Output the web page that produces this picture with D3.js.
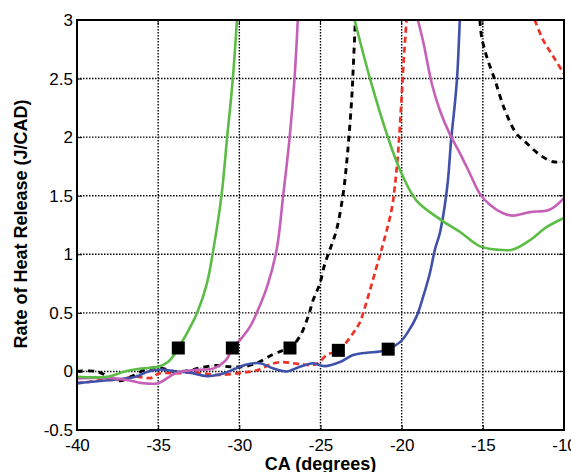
<!DOCTYPE html>
<html><head><meta charset="utf-8">
<script src="https://cdn.jsdelivr.net/npm/d3@7"></script>
<style>body{margin:0;background:#fff;} svg{display:block;}</style>
</head><body>
<svg id="c" width="571" height="472"></svg>
<script>
const xTicks = [-40,-35,-30,-25,-20,-15,-10];
const yTicks = [-0.5,0,0.5,1,1.5,2,2.5,3];
const xTickLabels = ["-40","-35","-30","-25","-20","-15","-10"];
const yTickLabels = ["-0.5","0","0.5","1","1.5","2","2.5","3"];

const greenX = [-40,-38.1,-37.05,-36,-35,-34.4,-33.97,-33.76,-33.25,-32.6,-32.0,-31.6,-31.1,-30.75,-30.4,-30.15,null,-22.9,-21.95,-20.85,-20.1,-19.1,-17.65,-16.4,-15.2,-14.15,-13.15,-12.1,-11.1,-10];
const greenY = [-0.045,-0.045,0.0,0.025,0.04,0.08,0.15,0.2,0.32,0.5,0.75,1.04,1.5,2.0,2.5,3.0,null,3.0,2.5,2.0,1.72,1.46,1.3,1.19,1.07,1.04,1.04,1.12,1.23,1.31];

const magentaX = [-40,-38.1,-36.85,-36,-35,-33.96,-32.94,-32.4,-31.6,-30.8,-30.43,-29.95,-29.35,-28.93,-28.3,-27.7,-27.3,-26.9,-26.6,-26.4,null,-19.0,-18.65,-18.15,-17.65,-17.05,-16.4,-15.8,-15.2,-14.55,-13.75,-13.15,-12.1,-10.9,-10];
const magentaY = [-0.06,-0.055,-0.075,-0.1,-0.1,-0.017,0.01,0.015,0.025,0.1,0.2,0.27,0.38,0.5,0.72,1.04,1.5,2.0,2.5,3.0,null,3.0,2.8,2.46,2.23,2.03,1.86,1.69,1.52,1.42,1.35,1.33,1.36,1.38,1.48];

const blueX = [-40,-38.1,-36.4,-35.6,-34.8,-33.97,-33.05,-32.0,-31.0,-30.3,-29.55,-28.73,-27.9,-27.1,-26.27,-25.65,-25.45,-24.73,-23.8,-22.99,-22.16,-21.34,-20.83,-20.1,-19.6,-19.08,-18.67,-18.26,-17.95,-17.65,-17.35,-17.15,-16.95,-16.72,-16.58,-16.42];
const blueY = [-0.1,-0.075,-0.046,0.0,0.017,0.0,-0.01,-0.04,-0.017,0.02,0.06,0.07,0.025,0.0,0.04,0.065,0.07,0.045,0.08,0.14,0.16,0.17,0.19,0.25,0.34,0.47,0.64,0.84,1.04,1.18,1.41,1.63,1.98,2.29,2.52,3.0];

const redX = [-40,-39.3,-38.5,-37.35,-36.5,-35.4,-35,-33.55,-32.9,-32.2,-31.2,-29.8,-28.9,-28.1,-27.4,-26.7,-26.1,-25.65,-25.14,-24.62,-23.9,-23.4,-22.88,-22.57,-22.37,-21.96,-21.55,-21.24,-20.62,-20.42,-20.21,-20.01,-19.9,-19.7,null,-11.8,-11.29,-10.67,-10];
const redY = [-0.1,-0.09,-0.075,-0.07,-0.045,-0.055,-0.02,-0.015,-0.005,-0.017,-0.03,-0.01,0.01,0.06,0.08,0.07,0.06,0.054,0.07,0.14,0.18,0.25,0.35,0.42,0.5,0.69,0.89,1.04,1.38,1.58,1.89,2.32,2.6,3.0,null,3.0,2.83,2.69,2.54];

const blackX = [-40,-38.8,-37.4,-36.6,-35.7,-34.9,-34.0,-33.0,-32.43,-31.5,-30.6,-29.8,-28.94,-28.0,-27.3,-26.88,-26.27,-25.76,-25.45,-25.04,-24.73,-24.42,-24.01,-23.6,-23.39,-23.25,-23.08,-22.98,-22.88,-22.85,null,-15.18,-15.08,-14.77,-14.26,-13.64,-12.93,-12.31,-11.5,-10.67,-10];
const blackY = [0.0,0.0,-0.08,-0.04,0.02,0.03,0.0,0.01,0.03,0.05,0.04,0.04,0.07,0.14,0.18,0.2,0.3,0.47,0.61,0.75,0.92,1.04,1.21,1.52,1.78,2.0,2.32,2.6,2.91,3.0,null,3.0,2.86,2.69,2.49,2.23,2.03,1.95,1.85,1.79,1.79];

const markerX = [-33.76,-30.43,-26.88,-23.9,-20.83];
const markerY = [0.2,0.2,0.2,0.18,0.19];

const W=571,H=472, L=77, T=20, R=564, B=430;
const svg = d3.select("#c");
const x = d3.scaleLinear().domain([-40,-10]).range([L,R]);
const y = d3.scaleLinear().domain([-0.5,3]).range([B,T]);
const font = "'Liberation Sans', Arial, sans-serif";

// grid
const grid = svg.append("g");
grid.selectAll("line.gx").data(xTicks.slice(1,-1)).join("line")
  .attr("x1",d=>x(d)).attr("x2",d=>x(d)).attr("y1",T).attr("y2",B)
  .attr("stroke","#000").attr("stroke-width",1.4).attr("stroke-dasharray","1.5,1.5");
grid.selectAll("line.gy").data(yTicks.slice(1,-1)).join("line")
  .attr("y1",d=>y(d)).attr("y2",d=>y(d)).attr("x1",L).attr("x2",R)
  .attr("stroke","#000").attr("stroke-width",1.4).attr("stroke-dasharray","1.5,1.5");

// axes (labels)
const xAxis = d3.axisBottom(x).tickValues(xTicks).tickFormat((d,i)=>xTickLabels[i]).tickSizeInner(-5).tickSizeOuter(0);
const yAxis = d3.axisLeft(y).tickValues(yTicks).tickFormat((d,i)=>yTickLabels[i]).tickSizeInner(-5).tickSizeOuter(0);
const gx = svg.append("g").attr("transform",`translate(0,${B})`).call(xAxis);
const gy = svg.append("g").attr("transform",`translate(${L},0)`).call(yAxis);
[gx,gy].forEach(g=>{
  g.select(".domain").remove();
  g.selectAll("text").attr("font-family",font).attr("font-size",17).attr("fill","#000");
  g.selectAll("line").attr("stroke","#000");
});
gx.selectAll("text").attr("dy",null).attr("y",21);
gy.selectAll("text").attr("x",-4);
// top & right inner ticks
svg.append("g").selectAll("line").data(xTicks).join("line")
  .attr("x1",d=>x(d)).attr("x2",d=>x(d)).attr("y1",T).attr("y2",T+5).attr("stroke","#000");
svg.append("g").selectAll("line").data(yTicks).join("line")
  .attr("y1",d=>y(d)).attr("y2",d=>y(d)).attr("x1",R).attr("x2",R-5).attr("stroke","#000");

// clip
svg.append("clipPath").attr("id","clip").append("rect").attr("x",L).attr("y",T-1).attr("width",R-L).attr("height",B-T+1);
const plot = svg.append("g").attr("clip-path","url(#clip)");
function pts(xs,ys){return xs.map((v,i)=>[v,ys[i]]);}
const lineC = d3.line().defined(d=>d[0]!==null && d[1]!==null).x(d=>x(d[0])).y(d=>y(d[1])).curve(d3.curveCatmullRom.alpha(0.5));

plot.append("path").datum(pts(redX,redY)).attr("d",lineC).attr("fill","none")
  .attr("stroke","#ee3124").attr("stroke-width",2.7).attr("stroke-dasharray","6,4");
plot.append("path").datum(pts(blackX,blackY)).attr("d",lineC).attr("fill","none")
  .attr("stroke","#bbb").attr("stroke-width",1).attr("stroke-dasharray","2,9").attr("stroke-dashoffset",3.5);
plot.append("path").datum(pts(blackX,blackY)).attr("d",lineC).attr("fill","none")
  .attr("stroke","#000").attr("stroke-width",2.9).attr("stroke-dasharray","6,5");
plot.append("path").datum(pts(blueX,blueY)).attr("d",lineC).attr("fill","none")
  .attr("stroke","#3f51a8").attr("stroke-width",2.6);
plot.append("path").datum(pts(magentaX,magentaY)).attr("d",lineC).attr("fill","none")
  .attr("stroke","#c660b6").attr("stroke-width",2.6);
plot.append("path").datum(pts(greenX,greenY)).attr("d",lineC).attr("fill","none")
  .attr("stroke","#5bbd45").attr("stroke-width",2.6);

// markers
svg.append("g").selectAll("rect").data(pts(markerX,markerY)).join("rect")
  .attr("x",d=>x(d[0])-6.5).attr("y",d=>y(d[1])-6.5).attr("width",13).attr("height",13).attr("fill","#000");

// box
svg.append("rect").attr("x",L).attr("y",T).attr("width",R-L).attr("height",B-T)
  .attr("fill","none").attr("stroke","#000").attr("stroke-width",2);

// labels
svg.append("text").attr("x",(L+R)/2).attr("y",470).attr("text-anchor","middle")
  .attr("font-family",font).attr("font-weight","bold").attr("font-size",18).text("CA (degrees)");
svg.append("text").attr("transform",`translate(27,${(T+B)/2 - 1}) rotate(-90)`).attr("text-anchor","middle")
  .attr("font-family",font).attr("font-weight","bold").attr("font-size",18).text("Rate of Heat Release (J/CAD)");
</script>
</body></html>
